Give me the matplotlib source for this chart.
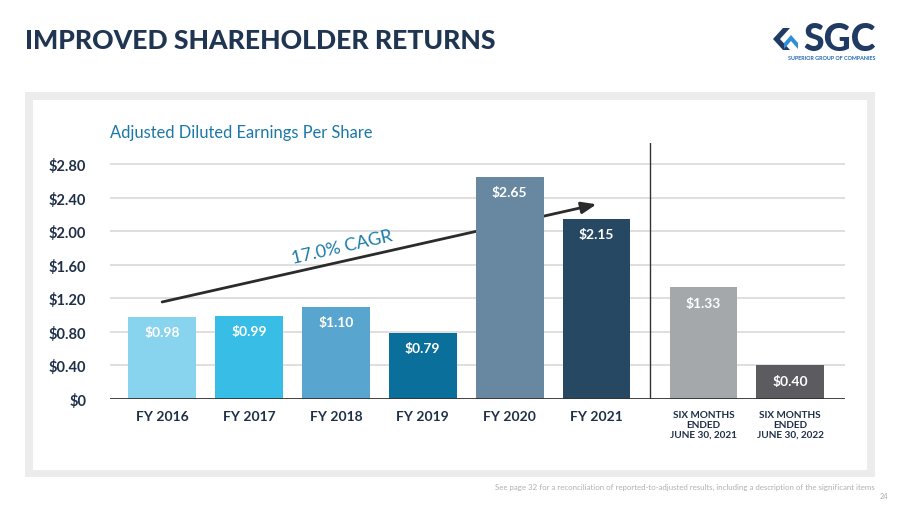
import matplotlib
matplotlib.use("Agg")
import matplotlib.pyplot as plt
from matplotlib.patches import Rectangle, Polygon

# ---- data ----
categories = ["FY 2016", "FY 2017", "FY 2018", "FY 2019", "FY 2020", "FY 2021",
              "SIX MONTHS\nENDED\nJUNE 30, 2021", "SIX MONTHS\nENDED\nJUNE 30, 2022"]
eps_values = [0.98, 0.99, 1.10, 0.79, 2.65, 2.15, 1.33, 0.40]
value_labels = ["$0.98", "$0.99", "$1.10", "$0.79", "$2.65", "$2.15", "$1.33", "$0.40"]
bar_colors = ["#88d3ee", "#38bde6", "#58a5cf", "#0b6f9c", "#6788a0", "#274863",
              "#a5a8ab", "#5c5c60"]
x_positions = [0, 1, 2, 3, 4, 5, 6.23, 7.23]
y_ticks = [0, 0.4, 0.8, 1.2, 1.6, 2.0, 2.4, 2.8]
y_tick_labels = ["$0", "$0.40", "$0.80", "$1.20", "$1.60", "$2.00", "$2.40", "$2.80"]
cagr_label = "17.0% CAGR"
cagr_start = (0.0, 1.156)
cagr_end = (5.0, 2.32)

W, H = 900, 506
def fx(x): return x / W
def fy(y): return 1 - y / H

FONT = ["Lato", "DejaVu Sans"]
plt.rcParams["font.family"] = FONT
NAVY = "#1f2f48"

fig = plt.figure(figsize=(9, 5.06), dpi=100)
fig.patch.set_facecolor("white")

# gray panel
fig.patches.append(Rectangle((fx(25), fy(478)), fx(850), (478 - 93) / H,
                             transform=fig.transFigure, facecolor="#ececec",
                             edgecolor="none", zorder=-2))
fig.patches.append(Rectangle((fx(33), fy(471)), fx(834), (471 - 101) / H,
                             transform=fig.transFigure, facecolor="white",
                             edgecolor="none", zorder=-1))

ax = fig.add_axes([fx(110), fy(400), fx(735), 256 / H])
ax.set_facecolor("none")
ax.set_xlim(-0.6, 7.86)
ax.set_ylim(0, 3.05)

for t in y_ticks[1:]:
    ax.axhline(t, color="#dcdcdc", lw=1.3, zorder=0)
ax.axhline(0, color="#333333", lw=1.3, zorder=3)

# CAGR arrow (behind bars)
ax.annotate("", xy=cagr_end, xytext=cagr_start,
            arrowprops=dict(arrowstyle="-|>,head_length=0.9,head_width=0.35",
                            color="#2b2b2b", lw=2.0, shrinkA=0, shrinkB=0),
            zorder=1)
ax.text(2.07, 1.82, cagr_label, rotation=13, color="#1a7aab", fontsize=13,
        ha="center", va="center", rotation_mode="anchor", zorder=1)

bars = ax.bar(x_positions, eps_values, width=0.78, color=bar_colors, zorder=2)
for xp, v, lab in zip(x_positions, eps_values, value_labels):
    ax.annotate(lab, xy=(xp, v), xytext=(0, -11), textcoords="offset points",
                ha="center", va="center", color="white", fontsize=10,
                fontweight="bold", zorder=4)

# divider
ax.axvline((x_positions[5] + x_positions[6]) / 2, color="#333333", lw=1.0, zorder=3)

ax.set_yticks(y_ticks, y_tick_labels)
ax.set_xticks(x_positions, categories)
ax.tick_params(axis="y", length=0, pad=17, labelsize=10.5, labelcolor=NAVY)
ax.tick_params(axis="x", length=0, pad=8, labelcolor=NAVY)
for lab in ax.get_yticklabels():
    lab.set_fontweight("bold")
for i, lab in enumerate(ax.get_xticklabels()):
    lab.set_fontweight("bold")
    if "\n" in categories[i]:
        lab.set_fontsize(7.2)
        lab.set_linespacing(1.1)
    else:
        lab.set_fontsize(10)
for s in ax.spines.values():
    s.set_visible(False)

# titles
fig.text(fx(25), fy(41), "IMPROVED SHAREHOLDER RETURNS", fontsize=19.1,
         fontweight="black", color="#1f3552", ha="left", va="center")
fig.text(fx(110), fy(133), "Adjusted Diluted Earnings Per Share", fontsize=11.9,
         color="#1d78a8", ha="left", va="center")

# footnote + page number
fig.text(fx(875), fy(487), "See page 32 for a reconciliation of reported-to-adjusted results, "
         "including a description of the significant items", fontsize=5.65,
         color="#b0b0b0", ha="right", va="center")
fig.text(fx(884), fy(497), "24", fontsize=5.3, color="#b0b0b0", ha="center", va="center")

# logo
fig.text(fx(876), fy(40), "SGC", fontsize=27, fontweight="black", color="#1f3a63",
         ha="right", va="center")
fig.text(fx(876), fy(58), "SUPERIOR GROUP OF COMPANIES", fontsize=3.9,
         fontweight="bold", color="#1f66b0", ha="right", va="center")
navy_chev = [(783, 29), (773, 40), (783, 51), (790, 51), (780, 40), (790, 29)]
fig.patches.append(Polygon([(fx(a), fy(b)) for a, b in navy_chev], closed=True,
                           transform=fig.transFigure, facecolor="#1f3a63", edgecolor="none"))
blue_chev = [(784, 44), (791, 36), (798, 44), (798, 50), (791, 42), (784, 50)]
fig.patches.append(Polygon([(fx(a), fy(b)) for a, b in blue_chev], closed=True,
                           transform=fig.transFigure, facecolor="#2e8fd6", edgecolor="none"))

fig.savefig("out.png", dpi=100)
